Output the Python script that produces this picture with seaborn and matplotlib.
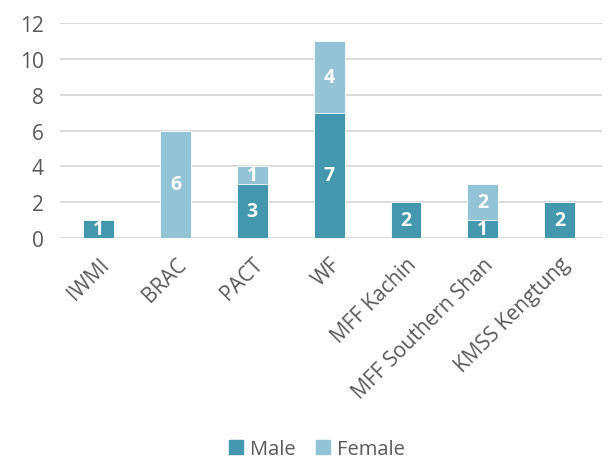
import numpy as np
import pandas as pd
import matplotlib
matplotlib.use("Agg")
import matplotlib.pyplot as plt
import seaborn as sns
from matplotlib.patches import Patch

# =========================
# DATA
# =========================
orgs = ["IWMI", "BRAC", "PACT", "WF", "MFF Kachin", "MFF Southern Shan", "KMSS Kengtung"]
male = [1, 0, 3, 7, 2, 1, 2]
female = [0, 6, 1, 4, 0, 2, 0]

MALE_COL = "#4398AF"
FEMALE_COL = "#93C3D4"

df = pd.DataFrame({"org": orgs, "male": male, "female": female})
df["total"] = df["male"] + df["female"]

# =========================
# PLOT
# =========================
sns.set_style("white")
plt.rcParams["font.family"] = ["Open Sans", "DejaVu Sans"]

fig, ax = plt.subplots(figsize=(6.08, 4.6), dpi=100)
fig.subplots_adjust(left=0.099, right=0.99, top=0.948, bottom=0.48)

sns.barplot(data=df, x="org", y="total", color=FEMALE_COL, width=0.4,
            saturation=1, edgecolor="white", linewidth=0.6, ax=ax, zorder=2)
sns.barplot(data=df, x="org", y="male", color=MALE_COL, width=0.4,
            saturation=1, edgecolor="white", linewidth=0.6, ax=ax, zorder=3)

# segment labels
for i, row in df.iterrows():
    if row["male"] > 0:
        ax.text(i, row["male"] / 2, str(row["male"]), ha="center", va="center",
                color="white", fontsize=14, fontweight="bold", zorder=4)
    if row["female"] > 0:
        ax.text(i, row["male"] + row["female"] / 2, str(row["female"]),
                ha="center", va="center", color="white", fontsize=14,
                fontweight="bold", zorder=4)

ax.set_ylim(0, 12)
ax.set_yticks(range(0, 13, 2))
ax.set_xlim(-0.5, len(orgs) - 0.45)
ax.yaxis.grid(True, color="#D9D9D9", linewidth=1.3, zorder=0)
ax.set_axisbelow(True)
sns.despine(ax=ax, left=True, bottom=True, top=True, right=True)
ax.axhline(0, color="#D9D9D9", linewidth=1.3, zorder=1)

ax.set_xlabel("")
ax.set_ylabel("")
ax.tick_params(axis="both", length=0, labelsize=15, labelcolor="#595959")
ax.tick_params(axis="y", pad=12)
ax.tick_params(axis="x", pad=11)
plt.setp(ax.get_xticklabels(), rotation=45, ha="right", rotation_mode="anchor")

handles = [Patch(color=MALE_COL, label="Male"), Patch(color=FEMALE_COL, label="Female")]
fig.legend(handles=handles, loc="center", bbox_to_anchor=(0.521, 0.021), ncol=2,
           frameon=False, fontsize=14.5, labelcolor="#595959",
           handlelength=0.7, handleheight=0.7, handletextpad=0.35, columnspacing=1.0)

plt.savefig("out.png")
plt.close()
